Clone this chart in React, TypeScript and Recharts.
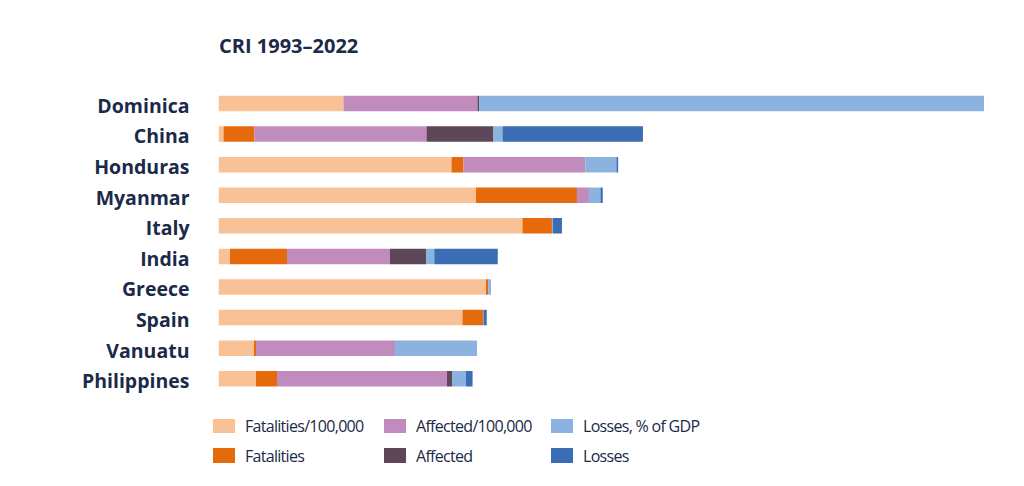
import { BarChart, Bar, XAxis, YAxis } from 'recharts';

const countries = ['Dominica', 'China', 'Honduras', 'Myanmar', 'Italy', 'India', 'Greece', 'Spain', 'Vanuatu', 'Philippines'];

// segment lengths (relative units)
const fatalitiesPer100k = [125, 5, 233, 257.5, 304, 11.5, 267.5, 244, 35.5, 37.5];
const fatalities = [0, 31, 12, 101, 29.5, 57, 2.3, 20.5, 2, 21];
const affectedPer100k = [134, 172, 122, 12, 0, 103, 0, 0, 139, 170];
const affected = [1.6, 67, 0, 0, 0, 36, 0, 0, 0, 5];
const lossesGdp = [505, 9, 31, 11.5, 1, 8.3, 2.7, 0.5, 82, 14];
const losses = [0, 140.5, 1.7, 2.3, 9, 63.5, 0, 3.3, 0, 6.6];

const series = [
  { key: 'fatalitiesPer100k', name: 'Fatalities/100,000', color: '#f8c196', values: fatalitiesPer100k },
  { key: 'fatalities', name: 'Fatalities', color: '#e56a0c', values: fatalities },
  { key: 'affectedPer100k', name: 'Affected/100,000', color: '#bf8cbd', values: affectedPer100k },
  { key: 'affected', name: 'Affected', color: '#5d4758', values: affected },
  { key: 'lossesGdp', name: 'Losses, % of GDP', color: '#8cb3e0', values: lossesGdp },
  { key: 'losses', name: 'Losses', color: '#3b6db4', values: losses },
];

// legend reads row by row: three per row
const legendOrder = ['fatalitiesPer100k', 'affectedPer100k', 'lossesGdp', 'fatalities', 'affected', 'losses'];

const data = countries.map((country, i) => {
  const row: Record<string, string | number> = { country };
  series.forEach((s) => {
    row[s.key] = s.values[i];
  });
  return row;
});

const navy = '#1b2a48';
const font = '"Open Sans", "Noto Sans", sans-serif';

const CountryTick = (props: any) => {
  const { x, y, payload } = props;
  return (
    <text x={x} y={y} dy={9.8} textAnchor="end" fill={navy} fontSize={19.5} fontWeight={700} fontFamily={font}>
      {payload.value}
    </text>
  );
};

export default function App() {
  const lefts = [205, 376, 543];
  return (
    <div style={{ position: 'relative', width: 1000, height: 470, fontFamily: font }}>
      <div
        style={{
          position: 'absolute',
          left: 211,
          top: 24,
          fontSize: 20,
          fontWeight: 700,
          color: navy,
        }}
      >
        CRI 1993–2022
      </div>
      <BarChart
        width={1000}
        height={470}
        data={data}
        layout="vertical"
        margin={{ top: 79.7, right: 24, bottom: 84.4, left: 0 }}
        barSize={15.5}
      >
        <XAxis type="number" hide domain={[0, 765.6]} allowDataOverflow />
        <YAxis
          type="category"
          dataKey="country"
          width={210.5}
          axisLine={false}
          tickLine={false}
          tickSize={0}
          tickMargin={29}
          interval={0}
          tick={<CountryTick />}
        />
        {series.map((s) => (
          <Bar key={s.key} dataKey={s.key} name={s.name} stackId="cri" fill={s.color} isAnimationActive={false} />
        ))}
      </BarChart>
      {legendOrder.map((key, i) => {
        const s = series.find((d) => d.key === key)!;
        return (
          <div
            key={key}
            style={{
              position: 'absolute',
              left: lefts[i % 3],
              top: 410 + Math.floor(i / 3) * 29.5,
              display: 'flex',
              alignItems: 'center',
              height: 16,
              color: navy,
              fontSize: 16,
              letterSpacing: -0.7,
              whiteSpace: 'nowrap',
            }}
          >
            <span style={{ display: 'inline-block', width: 22, height: 14.5, background: s.color, marginRight: 10 }} />
            <span>{s.name}</span>
          </div>
        );
      })}
    </div>
  );
}
